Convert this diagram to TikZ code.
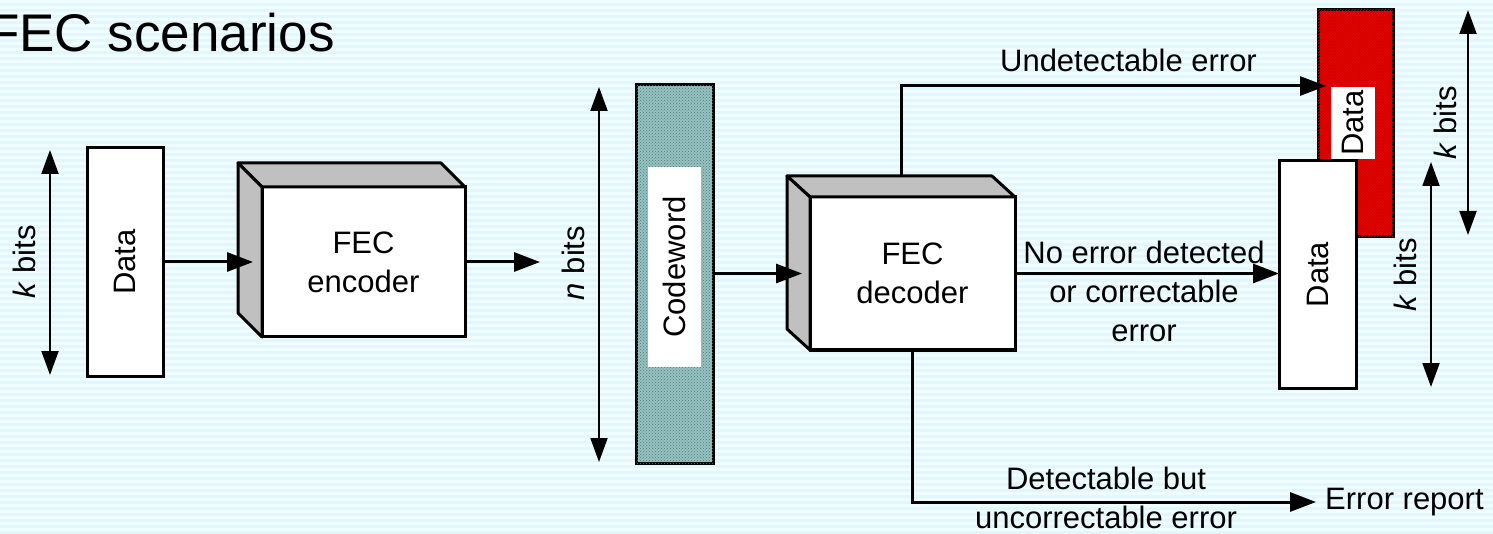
\documentclass[tikz,border=0pt]{standalone}
\usepackage{graphicx}
\usepackage{fontspec}
\setmainfont{Liberation Sans}
\usetikzlibrary{arrows.meta,calc,patterns}
\definecolor{bgA}{RGB}{240,253,255}
\definecolor{bgB}{RGB}{227,246,252}
\definecolor{sideface}{RGB}{192,192,192}
\definecolor{cwfill}{RGB}{150,194,194}
\definecolor{cwdots}{RGB}{80,120,120}
\definecolor{errred}{RGB}{236,0,0}
\definecolor{errdark}{RGB}{185,0,0}
\begin{document}
\begin{tikzpicture}[x=1pt,y=-1pt,
  box/.style={draw=black,line width=3pt,fill=white,inner sep=0pt,outer sep=0pt},
  lbl/.style={font=\fontsize{31}{39}\selectfont,align=center,inner sep=0pt},
  conn/.style={line width=3pt,-{Triangle[length=26pt,width=19pt]}},
  dimarrow/.style={line width=2pt,{Triangle[length=24pt,width=17pt]}-{Triangle[length=24pt,width=17pt]}},
  face/.style={fill=sideface,draw=black,line width=3pt,line join=round}]
% background
\fill[bgA] (0,0) rectangle (1493,533);
\foreach \i in {0,...,88} \fill[bgB] (0,{\i*6+3}) rectangle (1493,{\i*6+6});
\useasboundingbox (0,0) rectangle (1493,533);

% title
\node[font=\fontsize{53}{60}\selectfont,anchor=base east,inner sep=0pt] (title) at (335,52) {FEC scenarios};

% left data
\coordinate (k1t) at (50,150);
\coordinate (k1b) at (50,375);
\draw[dimarrow] (k1t) -- (k1b);
\node[lbl] (k1l) at (24,262) {\rotatebox{90}{\textit{k} bits}};
\node[box,minimum width=76pt,minimum height=228pt,lbl] (d1) at (125,262) {\rotatebox{90}{Data}};

% encoder
\node[box,minimum width=203pt,minimum height=150pt,lbl] (enc) at (363.5,262) {FEC\\encoder};
\filldraw[face] (enc.north west) -- ++(-24,-24) -- ++(203,0) -- (enc.north east) -- cycle;
\filldraw[face] (enc.north west) -- ++(-24,-24) -- ++(0,150) -- (enc.south west) -- cycle;
\draw[conn] (d1.east) -- ($(enc.west)+(-9,0)$);
\coordinate (eo) at (540,262);
\draw[conn] (enc.east) -- (eo);

% n bits
\coordinate (nt) at (599,87);
\coordinate (nb) at (599,462);
\draw[dimarrow] (nt) -- (nb);
\node[lbl] (nl) at (573,263) {\rotatebox{90}{\textit{n} bits}};

% codeword
\node[draw=black,line width=3pt,fill=cwfill,postaction={pattern=crosshatch dots,pattern color=cwdots},minimum width=77pt,minimum height=378pt,inner sep=0pt,outer sep=0pt] (cw) at (674.5,274) {};
\node[fill=white,minimum width=53pt,minimum height=200pt,inner sep=0pt,lbl] (cwin) at (674.5,267) {\rotatebox{90}{Codeword}};

% decoder
\node[box,minimum width=205pt,minimum height=153pt,lbl] (dec) at (912.5,273.5) {FEC\\decoder};
\filldraw[face] (dec.north west) -- ++(-23,-21) -- ++(205,0) -- (dec.north east) -- cycle;
\filldraw[face] (dec.north west) -- ++(-23,-21) -- ++(0,153) -- (dec.south west) -- cycle;
\draw[conn] (cw.east |- dec.west) -- ($(dec.west)+(-8,0)$);

% red data (undetectable)
\node[draw=black,line width=3pt,fill=errred,postaction={pattern=north east lines,pattern color=errdark},minimum width=75pt,minimum height=227pt,inner sep=0pt,outer sep=0pt] (red) at (1355.5,123.5) {};
\node[fill=white,minimum width=44pt,minimum height=72pt,inner sep=0pt,lbl] (redin) at (1353,123) {\rotatebox{90}{Data}};
\coordinate (dtop) at ($(dec.north)+(-11.5,-21)$);
\coordinate (ubend) at (901,86);
\draw[conn] (dtop) -- (ubend) -- ($(red.west |- ubend)+(8,0)$);
\node[lbl,anchor=base] (undl) at (1128.5,72) {Undetectable error};

% white data (correct)
\node[box,minimum width=77pt,minimum height=227pt,lbl] (d2) at (1317.5,274.5) {\rotatebox{90}{Data}};
\draw[conn] (dec.east) -- (d2.west |- dec.east);
\node[lbl] (noerr) at (1144,291) {No error detected\\or correctable\\error};

% right k bits
\coordinate (k2t) at (1468,10);
\coordinate (k2b) at (1468,235);
\draw[dimarrow] (k2t) -- (k2b);
\node[lbl] (k2l) at (1445,123) {\rotatebox{90}{\textit{k} bits}};
\coordinate (k3t) at (1431,162);
\coordinate (k3b) at (1431,387);
\draw[dimarrow] (k3t) -- (k3b);
\node[lbl] (k3l) at (1405,275) {\rotatebox{90}{\textit{k} bits}};

% error report
\node[lbl,anchor=west,inner xsep=9pt] (err) at (1316,502) {Error report};
\draw[conn] (dec.south) |- (err.west);
\node[lbl] (detl) at (1106,498) {Detectable but\\uncorrectable error};
\end{tikzpicture}
\end{document}
